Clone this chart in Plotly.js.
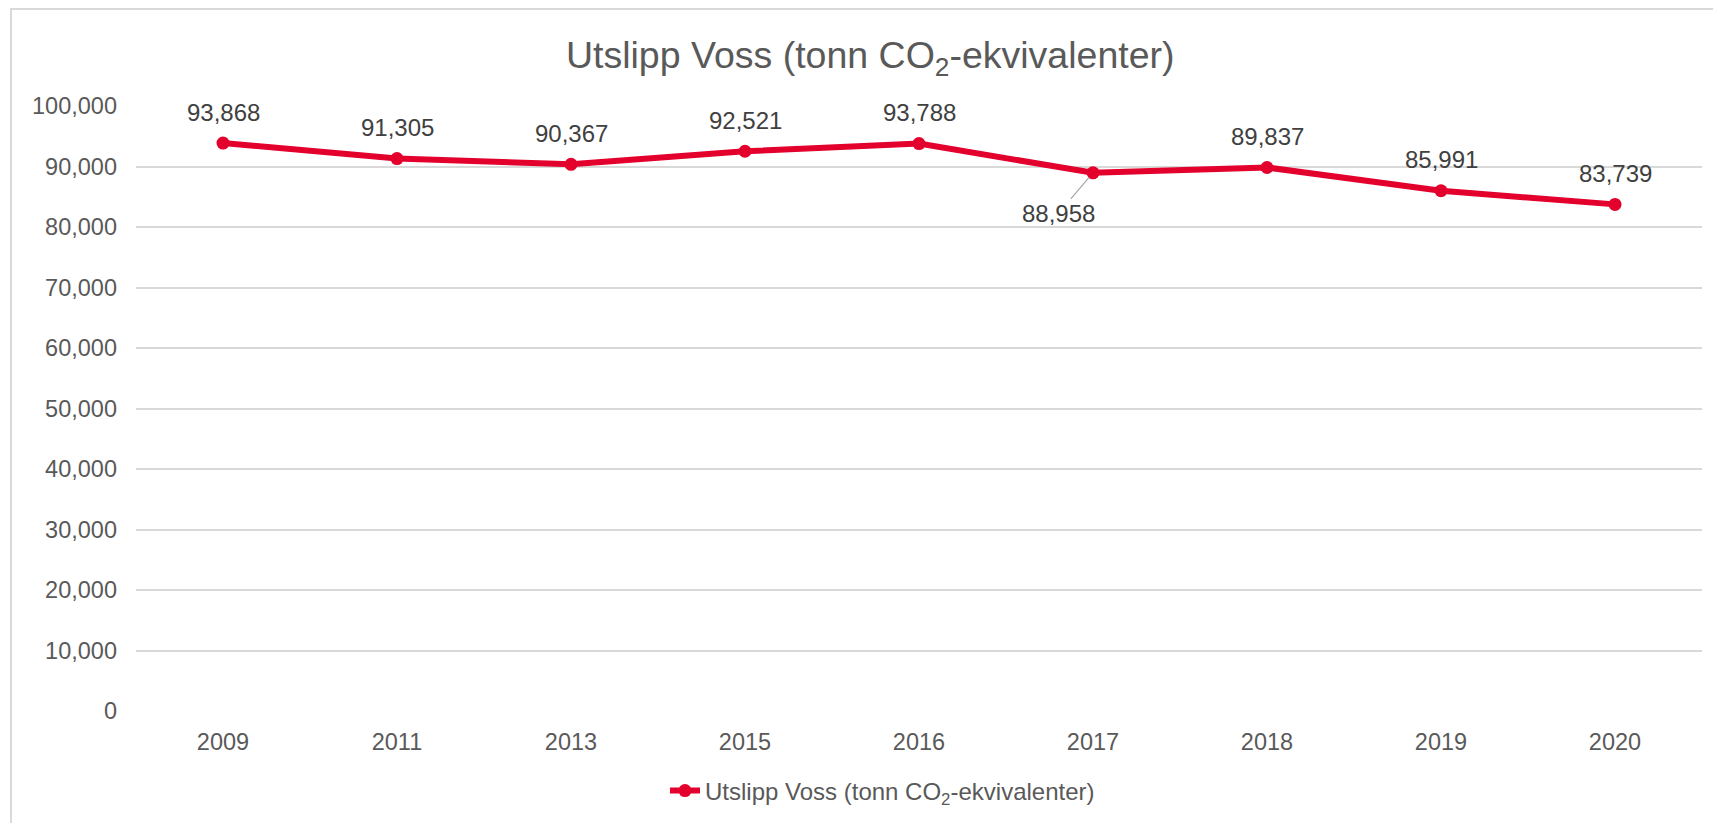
<!DOCTYPE html>
<html>
<head>
<meta charset="utf-8">
<script src="https://cdn.plot.ly/plotly-3.0.1.min.js"></script>
<style>
html,body{margin:0;padding:0;background:#fff;}
#chart{width:1713px;height:823px;}
</style>
</head>
<body>
<div id="chart"></div>
<script>
const years = ['2009','2011','2013','2015','2016','2017','2018','2019','2020'];
const emissions = [93868, 91305, 90367, 92521, 93788, 88958, 89837, 85991, 83739];
const seriesName = 'Utslipp Voss (tonn CO<sub>2</sub>-ekvivalenter)';
const chartTitle = 'Utslipp Voss (tonn CO<sub>2</sub>-ekvivalenter)';

const lineColor = '#E3002D';
const fontFam = '"Liberation Sans", Arial, sans-serif';

const fmt = v => v.toLocaleString('en-US');

const annotations = years.map((yr, i) => {
  const a = {
    x: i, y: emissions[i], xref: 'x', yref: 'y',
    text: fmt(emissions[i]),
    font: {family: fontFam, size: 24, color: '#404040'},
    showarrow: false, yshift: 31
  };
  if (yr === '2017') {
    Object.assign(a, {
      showarrow: true, yshift: 0, ax: -35, ay: 41,
      arrowhead: 0, arrowwidth: 1.2, arrowcolor: '#a6a6a6', standoff: 6
    });
  }
  return a;
});

const trace = {
  type: 'scatter', mode: 'lines+markers',
  x: years, y: emissions, name: seriesName,
  line: {color: lineColor, width: 6},
  marker: {color: lineColor, size: 13},
  hoverinfo: 'x+y'
};

const layout = {
  width: 1713, height: 823,
  margin: {l: 136, r: 11, t: 106, b: 112},
  paper_bgcolor: '#fff', plot_bgcolor: '#fff',
  font: {family: fontFam, color: '#595959', size: 24},
  title: {
    text: chartTitle, xref: 'container', x: 0.508, xanchor: 'center',
    yref: 'container', y: 1 - 55/823, yanchor: 'middle',
    font: {family: fontFam, size: 37.5, color: '#595959'}
  },
  xaxis: {
    type: 'category', categoryorder: 'array', categoryarray: years,
    range: [-0.5, years.length - 0.5], autorange: false,
    showgrid: false, zeroline: false, showline: false,
    ticks: '', ticklabelstandoff: 14,
    tickfont: {family: fontFam, size: 23.5, color: '#595959'}
  },
  yaxis: {
    range: [0, 100000], autorange: false, dtick: 10000, tick0: 0, tickformat: ',',
    showgrid: true, gridcolor: '#d9d9d9', gridwidth: 1.5,
    zeroline: false, showline: false, ticks: '', ticklabelstandoff: 18,
    tickfont: {family: fontFam, size: 23.5, color: '#595959'}
  },
  showlegend: true,
  legend: {
    orientation: 'h', xref: 'container', yref: 'container',
    x: 665/1713, xanchor: 'left', y: 1 - 791/823, yanchor: 'middle',
    font: {family: fontFam, size: 24, color: '#595959'},
    bgcolor: 'rgba(0,0,0,0)'
  },
  annotations: annotations,
  shapes: [{
    type: 'rect', xref: 'paper', yref: 'paper',
    x0: (11 - 136)/1566, x1: 1.2, y0: -0.5, y1: (711 - 9)/605,
    line: {color: '#d9d9d9', width: 2}, fillcolor: 'rgba(0,0,0,0)', layer: 'below'
  }]
};

Plotly.newPlot('chart', [trace], layout, {displayModeBar: false});
</script>
</body>
</html>
